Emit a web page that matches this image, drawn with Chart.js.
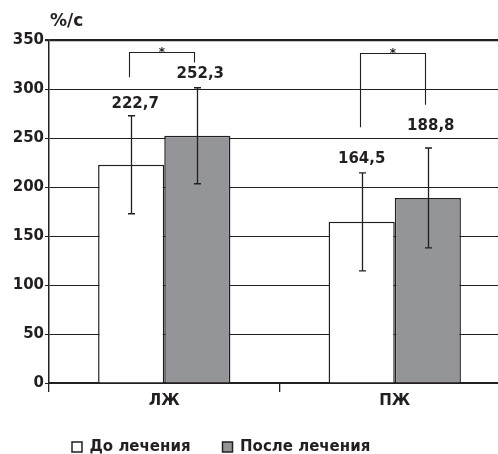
<!DOCTYPE html>
<html><head><meta charset="utf-8">
<script src="https://cdn.jsdelivr.net/npm/chart.js@4"></script>
<style>html,body{margin:0;padding:0;overflow:hidden;background:#fff}</style>
</head><body>
<canvas id="c" width="510" height="454"></canvas>
<script>
// ---- data ----
const categories = ['ЛЖ', 'ПЖ'];
const seriesNames = ['До лечения', 'После лечения'];
const beforeValues = [222.7, 164.5];
const afterValues = [252.3, 188.8];
const beforeErrors = [50, 50];
const afterErrors = [49, 51];
const beforeLabels = ['222,7', '164,5'];
const afterLabels = ['252,3', '188,8'];
const yTicks = [0, 50, 100, 150, 200, 250, 300, 350];
const unitLabel = '%/с';
const sigMark = '*';
// significance brackets (value units): top bar, left leg end, right leg end
const bracketTop = [338, 337];
const bracketLeftEnd = [312, 261];
const bracketRightEnd = [327, 284];

// ---- styles ----
const ink = '#231f20';
const gray = '#939598';
const FONT = "'DejaVu Sans', sans-serif";
Chart.defaults.font.family = FONT;
Chart.defaults.font.size = 15;
Chart.defaults.font.weight = 'bold';
Chart.defaults.color = ink;

const LEG_PAD = 32;
const X_AXIS_H = 40;
// label offsets in px relative to error bar top (dx, dy)
const labelOffsets = [[[4, -12], [0, -14]], [[3, -14], [3, -22]]];

const annot = {
  id: 'annot',
  afterLayout(chart) {
    const lg = chart.legend;
    const p = lg.options.labels.padding;
    const w = lg.right - lg.left, h = lg.bottom - lg.top;
    lg.left = 72 - p; lg.right = lg.left + w;
    lg.top = 447 - p - 7.5; lg.bottom = lg.top + h;
  },
  afterDatasetsDraw(chart) {
    const ctx = chart.ctx, ys = chart.scales.y;
    const vals = [beforeValues, afterValues];
    const errs = [beforeErrors, afterErrors];
    const labs = [beforeLabels, afterLabels];
    ctx.save();
    ctx.strokeStyle = ink; ctx.fillStyle = ink;
    ctx.font = "bold 15px " + FONT;
    ctx.textAlign = 'center'; ctx.textBaseline = 'middle';
    for (let d = 0; d < 2; d++) {
      const meta = chart.getDatasetMeta(d);
      meta.data.forEach((bar, i) => {
        const x = Math.round(bar.x) + 0.5;
        const top = ys.getPixelForValue(vals[d][i] + errs[d][i]);
        const bot = ys.getPixelForValue(vals[d][i] - errs[d][i]);
        ctx.lineWidth = 1.3;
        ctx.beginPath();
        ctx.moveTo(x, top); ctx.lineTo(x, bot);
        ctx.moveTo(x - 3.5, top); ctx.lineTo(x + 3.5, top);
        ctx.moveTo(x - 3.5, bot); ctx.lineTo(x + 3.5, bot);
        ctx.stroke();
        const o = labelOffsets[d][i];
        ctx.fillText(labs[d][i], bar.x + o[0], top + o[1]);
      });
    }
    // significance brackets
    const m0 = chart.getDatasetMeta(0), m1 = chart.getDatasetMeta(1);
    ctx.lineWidth = 1.1;
    for (let i = 0; i < categories.length; i++) {
      const xl = Math.round(m0.data[i].x - 2) + 0.5;
      const xr = Math.round(m1.data[i].x - 3) + 0.5;
      const yt = Math.round(ys.getPixelForValue(bracketTop[i])) + 0.5;
      ctx.beginPath();
      ctx.moveTo(xl, ys.getPixelForValue(bracketLeftEnd[i]));
      ctx.lineTo(xl, yt); ctx.lineTo(xr, yt);
      ctx.lineTo(xr, ys.getPixelForValue(bracketRightEnd[i]));
      ctx.stroke();
      ctx.font = "bold 12px " + FONT;
      ctx.textBaseline = 'alphabetic';
      ctx.fillText(sigMark, (xl + xr) / 2, yt + 3.5);
    }
    // unit label
    ctx.font = "bold 17px " + FONT;
    ctx.textAlign = 'left'; ctx.textBaseline = 'middle';
    ctx.fillText(unitLabel, chart.chartArea.left + 1, chart.chartArea.top - 18);
    ctx.restore();
  }
};

new Chart(document.getElementById('c'), {
  type: 'bar',
  data: {
    labels: categories,
    datasets: [
      { label: seriesNames[0], data: beforeValues, backgroundColor: '#ffffff', borderColor: ink, borderWidth: 1.5 },
      { label: seriesNames[1], data: afterValues, backgroundColor: gray, borderColor: ink, borderWidth: 1.5 }
    ]
  },
  options: {
    responsive: false,
    animation: false,
    layout: { padding: { top: 40, right: 0, bottom: 71 - X_AXIS_H - (15 + LEG_PAD + 10), left: 0 } },
    datasets: { bar: { categoryPercentage: 0.574, barPercentage: 1 } },
    plugins: {
      tooltip: { enabled: false },
      legend: {
        position: 'bottom', align: 'start',
        labels: { boxWidth: 10, boxHeight: 10, padding: LEG_PAD, color: ink, font: { size: 15, weight: 'bold', family: FONT } }
      }
    },
    scales: {
      x: {
        afterFit: s => { s.height = X_AXIS_H; },
        grid: { offset: true, drawOnChartArea: false, drawTicks: true, tickLength: 9, color: ink, lineWidth: 1.3 },
        border: { color: ink, width: 2 },
        ticks: { color: ink, padding: 0, font: { size: 15, weight: 'bold', family: FONT } }
      },
      y: {
        min: 0, max: 350,
        afterBuildTicks: s => { s.ticks = yTicks.map(v => ({ value: v })); },
        afterFit: s => { s.width = 49; },
        grid: { color: ink, lineWidth: c => (c.tick && c.tick.value === 350) ? 2.2 : 1, tickLength: 4 },
        border: { color: ink, width: 1.5 },
        ticks: { color: ink, padding: 1, font: { size: 15, weight: 'bold', family: FONT } }
      }
    }
  },
  plugins: [annot]
});
</script>
</body></html>
